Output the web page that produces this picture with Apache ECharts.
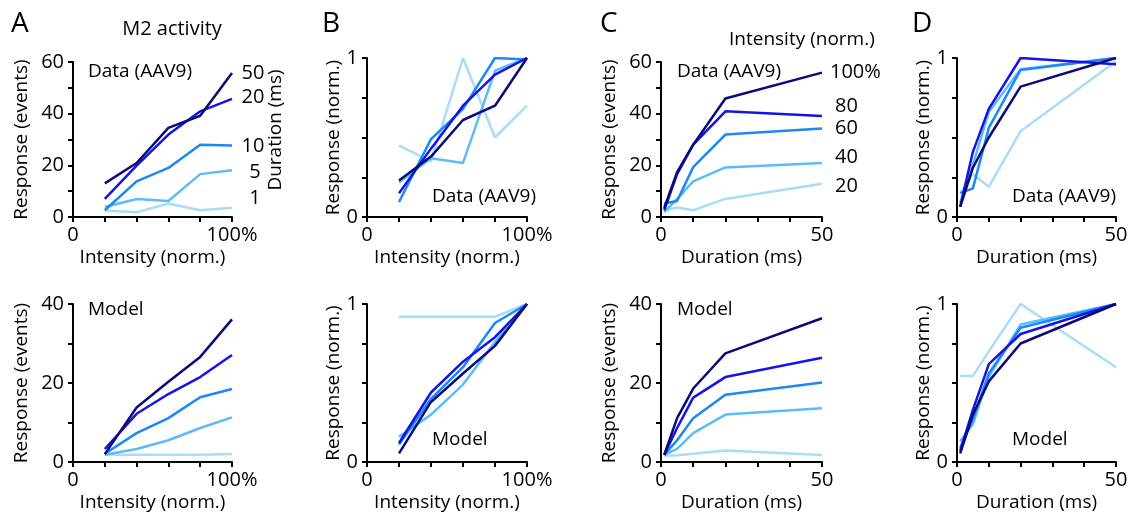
<!DOCTYPE html>
<html>
<head>
<meta charset="utf-8">
<script src="https://cdn.jsdelivr.net/npm/echarts@6/dist/echarts.min.js"></script>
<style>
html,body{margin:0;padding:0;background:#fff;}
#chart{width:1134px;height:519px;}
</style>
</head>
<body>
<div id="chart"></div>
<script>
// ---- Data ----
const intensity = [20, 40, 60, 80, 100];      // % (x for A, B)
const duration = [1, 5, 10, 20, 50];          // ms (x for C, D)
const durationLabels = ['50', '20', '10', '5', '1'];
const intensityLabels = ['100%', '80', '60', '40', '20'];

// Panel A, data (events) — rows: duration 50, 20, 10, 5, 1 ms
const aData50 = [13.0, 20.9, 34.5, 39.2, 55.7];
const aData20 = [7.0, 19.9, 31.9, 40.9, 45.7];
const aData10 = [2.6, 13.8, 19.0, 28.0, 27.7];
const aData5  = [3.9, 7.0, 6.2, 16.6, 18.1];
const aData1  = [2.5, 1.8, 5.2, 2.6, 3.6];

// Panel B, data (normalized)
const bData50 = [0.23, 0.38, 0.61, 0.70, 1.0];
const bData20 = [0.15, 0.43, 0.70, 0.895, 1.0];
const bData10 = [0.094, 0.49, 0.68, 1.0, 0.99];
const bData5  = [0.217, 0.37, 0.34, 0.92, 1.0];
const bData1  = [0.45, 0.35, 1.0, 0.50, 0.70];

// Panel C, data (events) — rows: intensity 100, 80, 60, 40, 20 %
const cData100 = [3.5, 17.4, 28.0, 45.9, 55.9];
const cData80  = [2.6, 16.6, 28.0, 40.9, 39.1];
const cData60  = [5.2, 6.2, 19.3, 31.9, 34.3];
const cData40  = [1.8, 7.0, 13.8, 19.2, 20.9];
const cData20  = [2.5, 3.7, 2.6, 7.0, 12.9];

// Panel D, data (normalized)
const dData100 = [0.063, 0.31, 0.50, 0.82, 1.0];
const dData80  = [0.064, 0.41, 0.68, 1.0, 0.96];
const dData60  = [0.15, 0.18, 0.56, 0.925, 1.0];
const dData40  = [0.09, 0.33, 0.66, 0.93, 1.0];
const dData20  = [0.15, 0.27, 0.19, 0.54, 0.98];

// Panel A, model (events)
const aModel50 = [2.0, 13.8, 20.3, 26.6, 36.1];
const aModel20 = [3.3, 12.2, 17.2, 21.5, 27.1];
const aModel10 = [2.1, 7.3, 11.1, 16.4, 18.5];
const aModel5  = [1.85, 3.3, 5.5, 8.6, 11.3];
const aModel1  = [1.85, 1.85, 1.85, 1.85, 2.0];

// Panel B, model (normalized)
const bModel50 = [0.055, 0.38, 0.56, 0.735, 1.0];
const bModel20 = [0.12, 0.44, 0.635, 0.79, 1.0];
const bModel10 = [0.11, 0.40, 0.60, 0.88, 1.0];
const bModel5  = [0.16, 0.30, 0.49, 0.76, 1.0];
const bModel1  = [0.92, 0.92, 0.92, 0.92, 1.0];

// Panel C, model (events)
const cModel100 = [1.8, 11.1, 18.6, 27.5, 36.4];
const cModel80  = [1.8, 8.6, 16.3, 21.5, 26.4];
const cModel60  = [1.8, 5.5, 11.1, 17.0, 20.1];
const cModel40  = [1.8, 3.3, 7.3, 12.0, 13.6];
const cModel20  = [1.6, 1.7, 2.1, 2.9, 1.8];

// Panel D, model (normalized)
const dModel100 = [0.055, 0.30, 0.51, 0.75, 1.0];
const dModel80  = [0.07, 0.33, 0.62, 0.81, 1.0];
const dModel60  = [0.09, 0.27, 0.56, 0.85, 1.0];
const dModel40  = [0.13, 0.24, 0.54, 0.87, 1.0];
const dModel20  = [0.545, 0.545, 0.70, 1.0, 0.60];

// ---- Styles ----
const colors = ['#0b0b78', '#1414e6', '#1a88f5', '#5cbcfa', '#a8dcfa']; // dark -> pale
const FONT = '"Open Sans", sans-serif';
const FS = 19;
const TFS = 20;

const panels = [
  {grid:{left:73, top:62, width:159, height:155}, x:intensity, xmax:100, xint:20, xlab:{0:'0',100:'100%'}, ymax:60, yint:10, ylab:[0,20,40,60], yname:'Response (events)', ygap:42, xname:'Intensity (norm.)', series:[aData50,aData20,aData10,aData5,aData1]},
  {grid:{left:367, top:58, width:160, height:159}, x:intensity, xmax:100, xint:20, xlab:{0:'0',100:'100%'}, ymax:1, yint:0.25, ylab:[0,1], yname:'Response (norm.)', ygap:24, xname:'Intensity (norm.)', series:[bData50,bData20,bData10,bData5,bData1]},
  {grid:{left:661, top:62, width:161, height:155}, x:duration, xmax:50, xint:10, xlab:{0:'0',50:'50'}, ymax:60, yint:10, ylab:[0,20,40,60], yname:'Response (events)', ygap:42, xname:'Duration (ms)', series:[cData100,cData80,cData60,cData40,cData20]},
  {grid:{left:957, top:58, width:159, height:159}, x:duration, xmax:50, xint:10, xlab:{0:'0',50:'50'}, ymax:1, yint:0.25, ylab:[0,1], yname:'Response (norm.)', ygap:24, xname:'Duration (ms)', series:[dData100,dData80,dData60,dData40,dData20]},
  {grid:{left:73, top:304, width:159, height:158}, x:intensity, xmax:100, xint:20, xlab:{0:'0',100:'100%'}, ymax:40, yint:10, ylab:[0,20,40], yname:'Response (events)', ygap:42, xname:'Intensity (norm.)', series:[aModel50,aModel20,aModel10,aModel5,aModel1]},
  {grid:{left:367, top:304, width:160, height:158}, x:intensity, xmax:100, xint:20, xlab:{0:'0',100:'100%'}, ymax:1, yint:0.25, ylab:[0,1], yname:'Response (norm.)', ygap:24, xname:'Intensity (norm.)', series:[bModel50,bModel20,bModel10,bModel5,bModel1]},
  {grid:{left:661, top:304, width:161, height:158}, x:duration, xmax:50, xint:10, xlab:{0:'0',50:'50'}, ymax:40, yint:10, ylab:[0,20,40], yname:'Response (events)', ygap:42, xname:'Duration (ms)', series:[cModel100,cModel80,cModel60,cModel40,cModel20]},
  {grid:{left:957, top:304, width:159, height:158}, x:duration, xmax:50, xint:10, xlab:{0:'0',50:'50'}, ymax:1, yint:0.25, ylab:[0,1], yname:'Response (norm.)', ygap:24, xname:'Duration (ms)', series:[dModel100,dModel80,dModel60,dModel40,dModel20]}
];

const axisLine = {show:true, onZero:false, lineStyle:{color:'#000', width:2}};
const axisTick = {show:true, length:5, lineStyle:{color:'#000', width:2}};

const grids = [], xAxes = [], yAxes = [], series = [];
panels.forEach((p, i) => {
  grids.push(Object.assign({containLabel:false}, p.grid));
  xAxes.push({
    type:'value', gridIndex:i, min:0, max:p.xmax, interval:p.xint,
    axisLine, axisTick, splitLine:{show:false},
    axisLabel:{margin:8, color:'#000', fontSize:TFS, fontFamily:FONT,
      formatter:v => (p.xlab[v] !== undefined ? p.xlab[v] : '')},
    name:p.xname, nameLocation:'middle', nameGap:31,
    nameTextStyle:{color:'#000', fontSize:FS, fontFamily:FONT}
  });
  yAxes.push({
    type:'value', gridIndex:i, min:0, max:p.ymax, interval:p.yint,
    axisLine, axisTick, splitLine:{show:false},
    axisLabel:{margin:9, color:'#000', fontSize:TFS, fontFamily:FONT,
      formatter:v => (p.ylab.some(l => Math.abs(l - v) < 1e-9) ? String(v) : '')},
    name:p.yname, nameLocation:'middle', nameGap:p.ygap,
    nameTextStyle:{color:'#000', fontSize:FS, fontFamily:FONT}
  });
  // draw pale first so dark sits on top
  for (let k = p.series.length - 1; k >= 0; k--) {
    series.push({
      type:'line', xAxisIndex:i, yAxisIndex:i, symbol:'none', silent:true,
      data:p.x.map((xv, j) => [xv, p.series[k][j]]),
      lineStyle:{color:colors[k], width:2.5}, z:10 - k
    });
  }
});

function txt(x, y, text, opts) {
  return {type:'text', x, y, style:Object.assign({text, fill:'#000', font:`${FS}px ${FONT}`, textVerticalAlign:'middle', textAlign:'left'}, opts || {})};
}

const graphics = [
  txt(11, 24, 'A', {font:`28px ${FONT}`}),
  txt(322, 24, 'B', {font:`28px ${FONT}`}),
  txt(600, 24, 'C', {font:`28px ${FONT}`}),
  txt(912, 24, 'D', {font:`28px ${FONT}`}),
  txt(172, 29, 'M2 activity', {textAlign:'center', font:`20px ${FONT}`}),
  txt(88, 72, 'Data (AAV9)'),
  txt(432, 197, 'Data (AAV9)'),
  txt(677, 72, 'Data (AAV9)'),
  txt(1012, 197, 'Data (AAV9)'),
  txt(88, 310, 'Model'),
  txt(432, 440, 'Model'),
  txt(677, 310, 'Model'),
  txt(1012, 440, 'Model'),
  // Duration legend for A
  txt(253, 73, durationLabels[0], {textAlign:'center', font:`${TFS}px ${FONT}`}),
  txt(253, 97, durationLabels[1], {textAlign:'center', font:`${TFS}px ${FONT}`}),
  txt(253, 146, durationLabels[2], {textAlign:'center', font:`${TFS}px ${FONT}`}),
  txt(255, 172, durationLabels[3], {textAlign:'center', font:`${TFS}px ${FONT}`}),
  txt(255, 198, durationLabels[4], {textAlign:'center', font:`${TFS}px ${FONT}`}),
  {type:'text', x:276, y:130, rotation:Math.PI/2, style:{text:'Duration (ms)', fill:'#000', font:`${FS}px ${FONT}`, textAlign:'center', textVerticalAlign:'middle'}},
  // Intensity legend for C
  txt(729, 40, 'Intensity (norm.)'),
  txt(830, 72, intensityLabels[0], {font:`${TFS}px ${FONT}`}),
  txt(835, 106, intensityLabels[1], {font:`${TFS}px ${FONT}`}),
  txt(835, 128, intensityLabels[2], {font:`${TFS}px ${FONT}`}),
  txt(835, 157, intensityLabels[3], {font:`${TFS}px ${FONT}`}),
  txt(835, 186, intensityLabels[4], {font:`${TFS}px ${FONT}`})
];

const chart = echarts.init(document.getElementById('chart'), null, {renderer:'canvas'});
chart.setOption({
  animation:false,
  backgroundColor:'#fff',
  grid:grids, xAxis:xAxes, yAxis:yAxes, series,
  graphic:graphics
});
</script>
</body>
</html>
